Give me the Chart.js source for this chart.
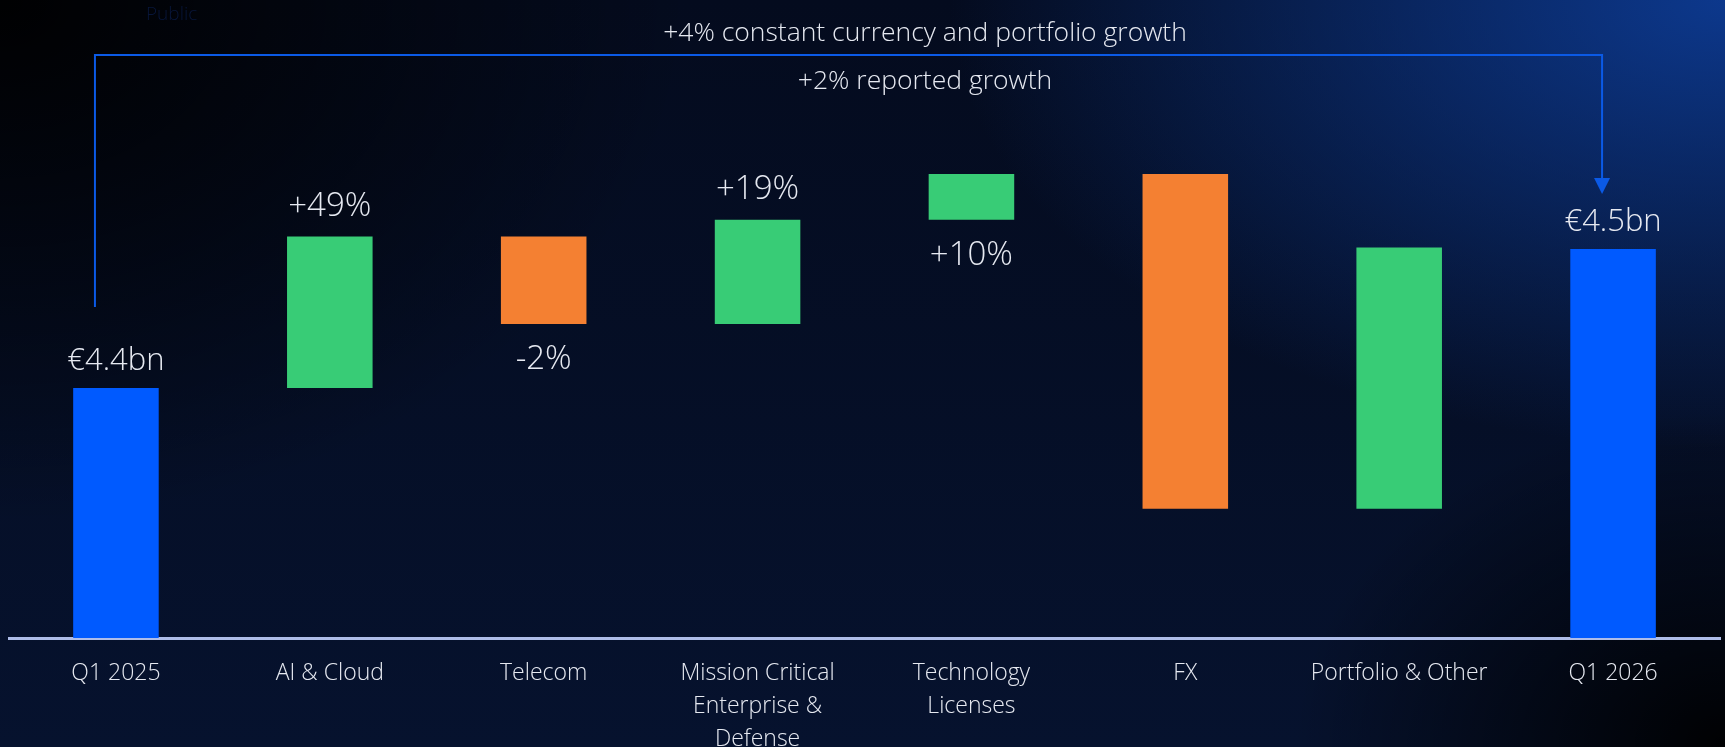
<!DOCTYPE html>
<html>
<head>
<meta charset="utf-8">
<script src="https://cdn.jsdelivr.net/npm/chart.js@4"></script>
<style>
    html, body {
        margin: 0;
        padding: 0;
        width: 1725px;
        height: 747px;
        overflow: hidden;
    }
    body {
        background:
            radial-gradient(ellipse 45% 60% at 100% 0%, rgba(14, 64, 160, 0.85), rgba(14, 64, 160, 0) 100%),
            radial-gradient(ellipse 40% 70% at 0% 0%, rgba(0, 0, 0, 0.95), rgba(0, 0, 0, 0) 100%),
            radial-gradient(ellipse 25% 45% at 100% 100%, rgba(0, 0, 0, 0.95), rgba(0, 0, 0, 0) 100%),
            linear-gradient(180deg, #040b1e 0%, #06122e 100%);
    }
    #wrap {
        position: absolute;
        left: 0;
        top: 0;
        width: 1725px;
        height: 747px;
    }
</style>
</head>
<body>
<div id="wrap"><canvas id="bridgeChart"></canvas></div>
<script>
// Категории и значения (€bn, начало и конец каждого столбика)
const categories = ['Q1 2025', 'AI & Cloud', 'Telecom', ['Mission Critical', 'Enterprise &', 'Defense'],
    ['Technology', 'Licenses'], 'FX', 'Portfolio & Other', 'Q1 2026'];
const barStart = [4.22, 4.40, 4.446, 4.446, 4.521, 4.313, 4.313, 4.22];
const barEnd   = [4.40, 4.509, 4.509, 4.521, 4.554, 4.554, 4.501, 4.50];
const barKind  = ['total', 'up', 'down', 'up', 'up', 'down', 'up', 'total'];
const valueLabels = ['€4.4bn', '+49%', '-2%', '+19%', '+10%', '', '', '€4.5bn'];
const labelSide   = ['top', 'top', 'bottom', 'top', 'bottom', '', '', 'top'];
const growthTitles = ['+4% constant currency and portfolio growth', '+2% reported growth'];

const colors = { total: '#005aff', up: '#38cc76', down: '#f48032' };
const fontFamily = "'Open Sans', 'Noto Sans', sans-serif";
const textColor = '#e6e9f1';

const annotations = {
    id: 'annotations',
    afterDraw(chart) {
        const ctx = chart.ctx;
        const x = chart.scales.x;
        const y = chart.scales.y;
        const meta = chart.getDatasetMeta(0);

        ctx.save();

        // метка "Public"
        ctx.fillStyle = '#08163a';
        ctx.font = `300 19px ${fontFamily}`;
        ctx.textAlign = 'left';
        ctx.textBaseline = 'middle';
        ctx.fillText('Public', 146, 15);

        // скобка со стрелкой
        const leftX = x.getPixelForValue(0) - 21;
        const rightX = x.getPixelForValue(categories.length - 1) - 11;
        const topY = 55;
        const leftBottom = y.getPixelForValue(barEnd[0]) - 81;
        const tipY = y.getPixelForValue(barEnd[barEnd.length - 1]) - 55;
        ctx.strokeStyle = '#0b5ae6';
        ctx.lineWidth = 2;
        ctx.beginPath();
        ctx.moveTo(leftX, leftBottom);
        ctx.lineTo(leftX, topY);
        ctx.lineTo(rightX, topY);
        ctx.lineTo(rightX, tipY - 14);
        ctx.stroke();
        ctx.fillStyle = '#0b5ae6';
        ctx.beginPath();
        ctx.moveTo(rightX - 8, tipY - 16);
        ctx.lineTo(rightX + 8, tipY - 16);
        ctx.lineTo(rightX, tipY);
        ctx.closePath();
        ctx.fill();

        // заголовки роста
        ctx.fillStyle = textColor;
        ctx.font = `300 26.5px ${fontFamily}`;
        ctx.textAlign = 'center';
        ctx.fillText(growthTitles[0], 925, 33);
        ctx.fillText(growthTitles[1], 925, 81);

        // подписи значений
        meta.data.forEach((bar, i) => {
            if (!valueLabels[i]) return;
            const isTotal = barKind[i] === 'total';
            ctx.font = `300 ${isTotal ? 31 : 33}px ${fontFamily}`;
            const top = Math.min(bar.y, bar.base);
            const bottom = Math.max(bar.y, bar.base);
            let ly;
            if (labelSide[i] === 'top') {
                ly = top - (isTotal ? 27 : 30);
            } else {
                ly = bottom + 36;
            }
            ctx.fillText(valueLabels[i], bar.x, ly);
        });

        ctx.restore();
    }
};

new Chart(document.getElementById('bridgeChart'), {
    type: 'bar',
    data: {
        labels: categories,
        datasets: [{
            data: barStart.map((s, i) => [s, barEnd[i]]),
            backgroundColor: barKind.map(k => colors[k]),
            borderWidth: 0,
            barPercentage: 0.8,
            categoryPercentage: 0.5
        }]
    },
    options: {
        responsive: true,
        maintainAspectRatio: false,
        animation: false,
        layout: {
            padding: { top: 110, left: 9, right: 5, bottom: 0 }
        },
        plugins: {
            legend: { display: false },
            tooltip: { enabled: false }
        },
        scales: {
            x: {
                grid: { display: false },
                border: { display: true, color: '#aebde9', width: 3 },
                ticks: {
                    color: textColor,
                    padding: 11,
                    maxRotation: 0,
                    autoSkip: false,
                    font: { family: fontFamily, size: 23, weight: 300, lineHeight: 1.43 }
                },
                afterFit(scale) {
                    scale.height = 109;
                }
            },
            y: {
                display: false,
                min: 4.22,
                max: 4.6
            }
        }
    },
    plugins: [annotations]
});
</script>
</body>
</html>
